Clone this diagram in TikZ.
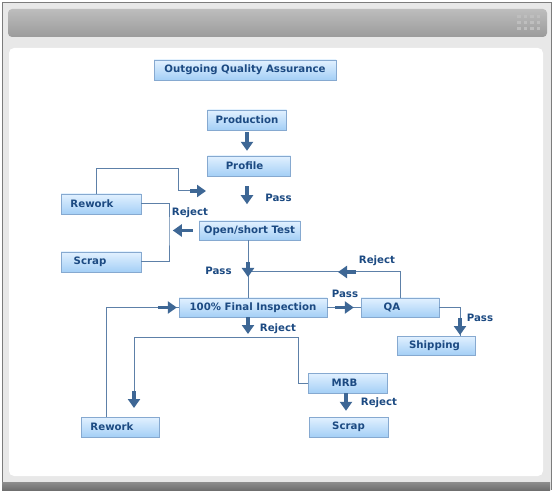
\documentclass[tikz,border=0pt]{standalone}
\usepackage{fontspec}
\setmainfont{DejaVu Sans}
\usetikzlibrary{positioning,
        shapes,
        arrows.meta}
\usepackage{xcolor}
\definecolor{framegray}{HTML}{E8E8E8}
\definecolor{bordergray}{HTML}{7C7C7C}
\definecolor{headtop}{HTML}{BDBDBD}
\definecolor{headbot}{HTML}{9B9B9B}
\definecolor{gripgray}{HTML}{BEBEBE}
\definecolor{bartop}{HTML}{8E8E8E}
\definecolor{barbot}{HTML}{6F6F6F}
\definecolor{boxtop}{HTML}{E2F1FF}
\definecolor{boxmid}{HTML}{C3DFFA}
\definecolor{boxbot}{HTML}{A4CFF6}
\definecolor{boxline}{HTML}{86A9D0}
\definecolor{textblue}{HTML}{1C4A82}
\definecolor{linkblue}{HTML}{5D80A8}
\definecolor{arrowblue}{HTML}{3E6795}
\newcommand{\qafont}{\fontsize{10.2}{12}\selectfont\bfseries}

\begin{document}
\begin{tikzpicture}[x=1pt,y=-1pt,
        box/.style={rectangle,draw=boxline,top color=boxtop,middle color=boxmid,bottom color=boxbot,
            minimum height=20pt,inner sep=0pt,text=textblue,font=\qafont},
        lbl/.style={text=textblue,font=\qafont,inner sep=0pt},
        link/.style={draw=linkblue,line width=1pt},
        bigarrow/.style={draw=arrowblue,line width=3.5pt,-{Triangle[width=12pt,length=9pt]}}]
            \useasboundingbox (0,0) rectangle (554,494);
            % frame
            \fill[framegray] (2,2) rectangle (551,490);
            \draw[bordergray] (2,490) -- (2,2) -- (551,2) -- (551,490);
            \shade[top color=bartop,bottom color=barbot] (2,482) rectangle (550,490);
            \shade[top color=headtop,bottom color=headbot,rounded corners=4pt] (8,9) rectangle (547,37);
            \foreach \i in {0,...,3}
                \foreach \j in {0,...,2}
                    \fill[gripgray] (517+6.5*\i,15+6*\j) rectangle ++(3.5,3.5);
            \fill[white,rounded corners=5pt] (9,48) rectangle (543,476);

            \node [box,minimum width=182pt] (oqa) at (245,70) {Outgoing Quality Assurance};
            \node [box,minimum width=79pt] (prod) at (247,120) {Production};
            \node [box,minimum width=83pt] (prof) at (249,166) {Profile\kern9pt};
            \node [box,minimum width=80pt] (rwk1) at (101,204) {Rework\kern18pt};
            \node [box,minimum width=80pt] (scr1) at (101,262) {Scrap\kern22pt};
            \node [box,minimum width=101pt,minimum height=19pt] (ost) at (249.5,230.5) {Open/short Test};
            \node [box,minimum width=148pt,minimum height=19pt] (fin) at (253,307.5) {100\% Final Inspection};
            \node [box,minimum width=78pt,minimum height=19pt] (qa) at (400,307.5) {QA\kern16pt};
            \node [box,minimum width=78pt,minimum height=19pt] (ship) at (436,345.5) {Shipping\kern3pt};
            \node [box,minimum width=79pt] (mrb) at (347.5,383) {MRB\kern6pt};
            \node [box,minimum width=79pt] (scr2) at (348.5,427) {Scrap};
            \node [box,minimum width=78pt] (rwk2) at (120,427) {Rework\kern16pt};

            \coordinate (loopA) at (178,169);
            \coordinate (loopB) at (190,191);
            \coordinate (loopTip) at (206,191);
            \coordinate (brk) at (169,230);
            \coordinate (mergeA) at (248,272);
            \coordinate (shipIn) at (460,336);
            \coordinate (rjIn) at (134,391);
            \coordinate (rjTip) at (134,408);
            \coordinate (rjR) at (298,337);
            \coordinate (rjTop) at (248,317);
            \coordinate (rjDown) at (248,334);

            \draw [link] ([xshift=-5pt]rwk1.north) |- (loopA) |- (loopB);
            \draw [link] (rwk1.east) -| (brk) |- (scr1.east);
            \draw [link] (ost.south -| mergeA) -- (fin.north -| mergeA);
            \draw [link] (qa.north) |- (mergeA);
            \draw [link] (fin) -- (qa);
            \draw [link] (qa.east) -| (shipIn);
            \draw [link] (rjIn) |- (rjR) |- (mrb.west);
            \draw [link] ([xshift=-14pt]rwk2.north) |- (fin.west);

            \draw [bigarrow] ([yshift=-2pt]prod.south) -- ([xshift=-2pt,yshift=5pt]prof.north);
            \draw [bigarrow] ([xshift=-2pt,yshift=-10pt]prof.south) -- ([xshift=-2pt,yshift=-28pt]prof.south);
            \draw [bigarrow] (loopB) -- (loopTip);
            \draw [bigarrow] ([xshift=-6pt]ost.west) -- ([xshift=-26pt]ost.west);
            \draw [bigarrow] ([yshift=10pt]mergeA) -- ([yshift=-5pt]mergeA);
            \draw [bigarrow] ([xshift=108pt]mergeA) -- ([xshift=90pt]mergeA);
            \draw [bigarrow] ([xshift=8pt]fin.east) -- ([xshift=-7pt]qa.west);
            \draw [bigarrow] ([yshift=18pt]shipIn) -- ([yshift=1pt]shipIn);
            \draw [bigarrow] (rjTop) -- (rjDown);
            \draw [bigarrow] (rjIn) -- (rjTip);
            \draw [bigarrow] ([xshift=-1.5pt]mrb.south) -- ([xshift=-2.5pt,yshift=6pt]scr2.north);
            \draw [bigarrow] ([xshift=-21pt]fin.west) -- ([xshift=-2pt]fin.west);

            \node [lbl] (pass1) at (278.5,198) {Pass};
            \node [lbl] (rej1) at (190,212.5) {Reject};
            \node [lbl] (pass2) at (218.5,271) {Pass};
            \node [lbl] (rej2) at (377,261) {Reject};
            \node [lbl] (pass3) at (345,294) {Pass};
            \node [lbl] (pass4) at (480,317.5) {Pass};
            \node [lbl] (rej3) at (278,329) {Reject};
            \node [lbl] (rej4) at (379,403) {Reject};
        \end{tikzpicture}
\end{document}
